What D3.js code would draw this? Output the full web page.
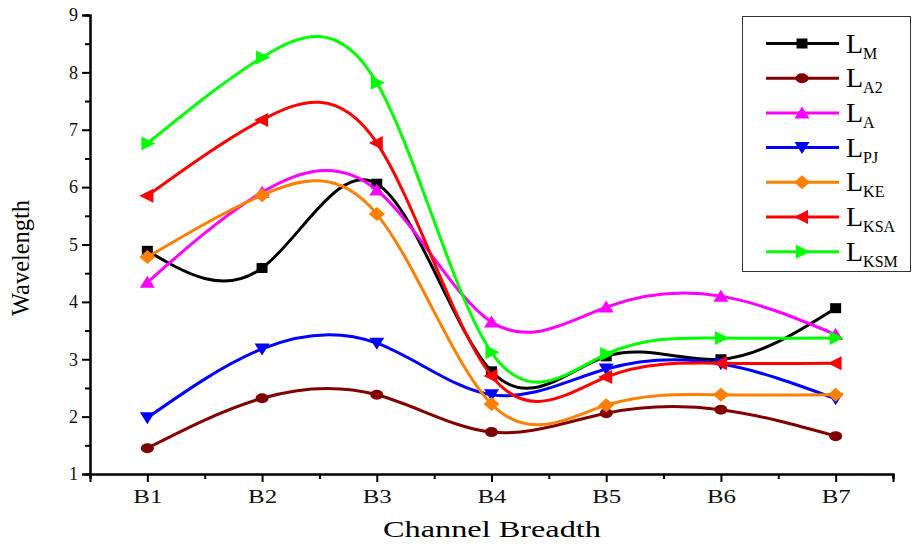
<!DOCTYPE html>
<html>
<head>
<meta charset="utf-8">
<script src="https://cdn.jsdelivr.net/npm/d3@7"></script>
<style>
  body { margin: 0; background: #fff; }
  svg { font-family: "Liberation Serif", "DejaVu Serif", serif; }
</style>
</head>
<body>
<div id="chart"></div>
<script>
// categories and series values
var categories = ["B1", "B2", "B3", "B4", "B5", "B6", "B7"];
var yTicks = [1, 2, 3, 4, 5, 6, 7, 8, 9];
var seriesNames = ["M", "A2", "A", "PJ", "KE", "KSA", "KSM"];
var LM   = [4.89, 4.59, 6.06, 2.79, 3.05, 3.00, 3.89];
var LA2  = [1.45, 2.32, 2.38, 1.73, 2.06, 2.12, 1.66];
var LA   = [4.34, 5.91, 5.95, 3.65, 3.91, 4.10, 3.43];
var LPJ  = [1.98, 3.18, 3.28, 2.38, 2.83, 2.92, 2.31];
var LKE  = [4.78, 5.86, 5.53, 2.22, 2.20, 2.38, 2.38];
var LKSA = [5.85, 7.17, 6.77, 2.71, 2.69, 2.93, 2.93];
var LKSM = [6.76, 8.26, 7.82, 3.12, 3.09, 3.37, 3.37];

var colors = ["#000000", "#800000", "#ff00ff", "#0000ff", "#ff8000", "#ff0000", "#00ff00"];
var shapes = ["square", "ellipse", "up", "down", "diamond", "left", "right"];
var values = [LM, LA2, LA, LPJ, LKE, LKSA, LKSM];

var W = 912, H = 545;
var svg = d3.select("#chart").append("svg").attr("width", W).attr("height", H);

// plot area
var margin = {left: 90, right: 893, top: 15, bottom: 474};
var x = d3.scaleLinear().domain([0.5, 7.5]).range([margin.left, margin.right]);
var y = d3.scaleLinear().domain([1, 9]).range([margin.bottom, margin.top]);

// marker shapes drawn as paths around (0,0)
function markerPath(s) {
    if (s == "square") return "M-5.5,-5H5.5V5H-5.5Z";
    if (s == "ellipse") return "M-6.5,0A6.5,5 0 1,0 6.5,0A6.5,5 0 1,0 -6.5,0Z";
    if (s == "up") return "M0,-6.5L7.5,5.5L-7.5,5.5Z";
    if (s == "down") return "M0,6.5L7.5,-5.5L-7.5,-5.5Z";
    if (s == "diamond") return "M0,-7L8,0L0,7L-8,0Z";
    if (s == "left") return "M-8,0L6,-7L6,7Z";
    if (s == "right") return "M8,0L-6,-7L-6,7Z";
}

// axes
var yAxis = d3.axisLeft(y).tickValues(yTicks).tickSize(8).tickPadding(4).tickFormat(d3.format("d"));
var yMinor = d3.axisLeft(y).tickValues(d3.range(1.5, 9, 1)).tickSize(5).tickFormat("");
var xAxis = d3.axisBottom(x).tickValues(d3.range(1, 8)).tickSize(8).tickPadding(8)
    .tickFormat(function(d) { return categories[d - 1]; });
var xMinor = d3.axisBottom(x).tickValues(d3.range(0.5, 8, 1)).tickSize(5).tickFormat("");

var gy = svg.append("g").attr("transform", "translate(" + margin.left + ",0)");
gy.call(yAxis);
gy.append("g").call(yMinor);
var gx = svg.append("g").attr("transform", "translate(0," + margin.bottom + ")");
gx.call(xAxis);
gx.append("g").call(xMinor);

svg.selectAll(".domain").attr("stroke", "#000").attr("stroke-width", 2);
svg.selectAll(".tick line").attr("stroke", "#000").attr("stroke-width", 2);
gy.selectAll(".tick text").attr("font-size", 18).attr("fill", "#111")
    .attr("font-family", "Liberation Serif");
gx.selectAll(".tick text").attr("font-size", 18).attr("fill", "#111")
    .attr("font-family", "Liberation Serif").attr("textLength", 29).attr("lengthAdjust", "spacingAndGlyphs");

// axis titles
svg.append("text").attr("x", 492).attr("y", 537).attr("text-anchor", "middle")
    .attr("font-size", 23).attr("textLength", 218).attr("lengthAdjust", "spacingAndGlyphs")
    .text("Channel Breadth");
svg.append("text").attr("transform", "translate(29,258) rotate(-90)").attr("text-anchor", "middle")
    .attr("font-size", 26).attr("textLength", 116).attr("lengthAdjust", "spacingAndGlyphs")
    .text("Wavelength");

// series lines
var line = d3.line()
    .x(function(d, i) { return x(i + 1); })
    .y(function(d) { return y(d); })
    .curve(d3.curveNatural);

values.forEach(function(vals, k) {
    var g = svg.append("g");
    g.append("path").attr("d", line(vals)).attr("fill", "none")
        .attr("stroke", colors[k]).attr("stroke-width", 3);
    g.selectAll("path.mk").data(vals).enter().append("path").attr("class", "mk")
        .attr("d", markerPath(shapes[k]))
        .attr("transform", function(d, i) { return "translate(" + x(i + 1) + "," + y(d) + ")"; })
        .attr("fill", colors[k]);
});

// legend
var lg = svg.append("g");
lg.append("rect").attr("x", 742.5).attr("y", 16.5).attr("width", 168).attr("height", 255)
    .attr("fill", "#fff").attr("stroke", "#333").attr("stroke-width", 1);
seriesNames.forEach(function(n, k) {
    var ly = 43.5 + k * 34.7;
    lg.append("line").attr("x1", 766).attr("x2", 839).attr("y1", ly).attr("y2", ly)
        .attr("stroke", colors[k]).attr("stroke-width", 3);
    lg.append("path").attr("d", markerPath(shapes[k]))
        .attr("transform", "translate(802," + ly + ")").attr("fill", colors[k]);
    var t = lg.append("text").attr("x", 846).attr("y", ly + 9).attr("font-size", 28);
    t.append("tspan").text("L");
    t.append("tspan").attr("dy", 6).attr("font-size", 16).text(n);
});
</script>
</body>
</html>
